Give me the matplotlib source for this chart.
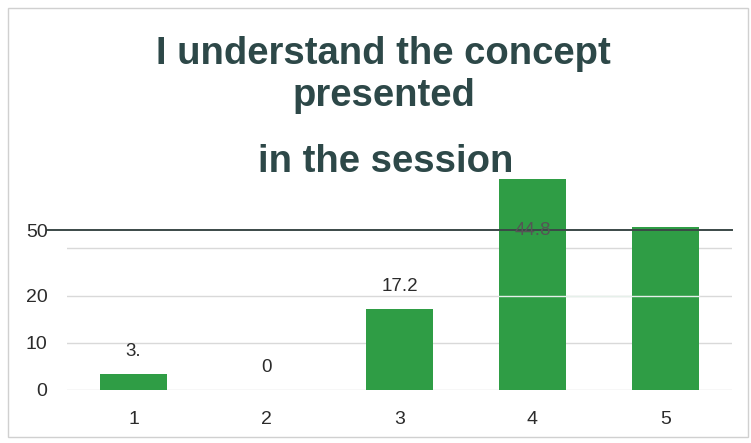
import matplotlib.pyplot as plt
from matplotlib.patches import Rectangle

# data
categories = ['1', '2', '3', '4', '5']
percent = [3.4, 0, 17.2, 44.8, 34.5]
bar_labels = ['3.', '0', '17.2', '44.8', '']
ytick_values = [0, 10, 20, 33.8]
ytick_labels = ['0', '10', '20', '50']
grid_values = [0, 10, 20, 30]
title_top = 'I understand the concept\npresented'
title_bottom = 'in the session'

green = '#2f9d45'
title_col = '#2d4848'
text_col = '#2b2b2b'

fig = plt.figure(figsize=(7.51, 4.43), dpi=100)
ax = fig.add_axes([67 / 751, 1 - 390 / 443, 665 / 751, 236 / 443])

x = list(range(1, len(categories) + 1))

# light grid lines
for g in grid_values:
    ax.axhline(g, color='#d9d9d9', lw=1.0, zorder=1)

ax.bar(x, percent, width=0.5, color=green, zorder=2)

# faint line that shows through the tall bars
ax.plot([3.75, 5.25], [20, 20], color='#e6f0ea', lw=1.0, zorder=3)

# the dark line at the "50" tick
ax.axhline(ytick_values[-1], xmin=-0.029, xmax=1.0, color='#3b4947',
           lw=1.4, clip_on=False, zorder=4)

line_level = ytick_values[-1]
for xi, v, lab in zip(x, percent, bar_labels):
    y = min(v + 4.7, line_level)
    col = text_col if v + 4.7 < line_level else '#555555'
    ax.text(xi, y, lab, ha='center', va='center', fontsize=13.5,
            color=col, family='Liberation Sans', zorder=5)

ax.set_xlim(0.5, 5.5)
ax.set_ylim(0, 50)
ax.set_xticks(x)
ax.set_xticklabels(categories)
ax.set_yticks(ytick_values)
ax.set_yticklabels(ytick_labels)
ax.tick_params(length=0, labelsize=14, colors=text_col)
ax.tick_params(axis='x', pad=15)
ax.tick_params(axis='y', pad=14)
for lab in ax.get_xticklabels() + ax.get_yticklabels():
    lab.set_family('Liberation Sans')
for s in ax.spines.values():
    s.set_visible(False)
ax.patch.set_alpha(0)

fig.text(0.511, 1 - 75 / 443, title_top, ha='center', va='center',
         fontsize=27.5, fontweight='bold', color=title_col,
         family='Liberation Sans', linespacing=1.18)
fig.text(0.513, 1 - 162 / 443, title_bottom, ha='center', va='center',
         fontsize=27.5, fontweight='bold', color=title_col,
         family='Liberation Sans')

# thin frame around the chart
fig.patches.append(Rectangle((8 / 751, 6 / 443), 740 / 751, 429 / 443,
                             transform=fig.transFigure, fill=False,
                             ec='#d0d0d0', lw=1.0))

fig.savefig('out.png', dpi=100)
